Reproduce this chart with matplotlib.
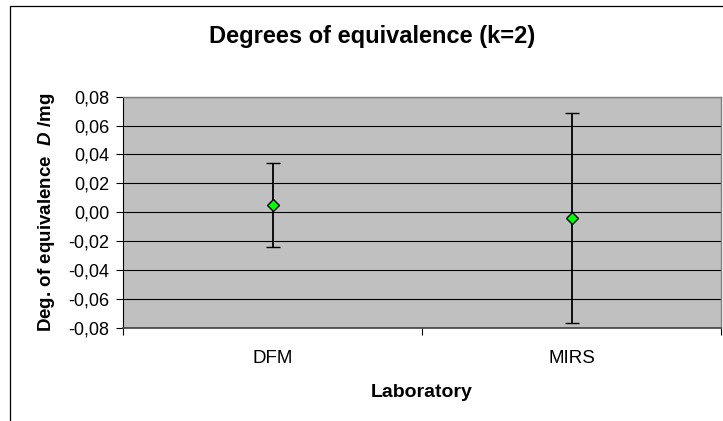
import matplotlib.pyplot as plt
from matplotlib.patches import Rectangle

labs = ['DFM', 'MIRS']
dvals = [0.005, -0.004]
uvals = [0.029, 0.073]
yticks = [-0.08, -0.06, -0.04, -0.02, 0.00, 0.02, 0.04, 0.06, 0.08]

plt.rcParams['font.family'] = 'Liberation Sans'
plt.rcParams['mathtext.fontset'] = 'custom'
plt.rcParams['mathtext.it'] = 'Liberation Sans:italic:bold'
plt.rcParams['mathtext.rm'] = 'Liberation Sans:bold'

fig = plt.figure(figsize=(7.23, 4.21), dpi=100)
fig.patch.set_facecolor('white')
# outer chart frame (cut off on the right and bottom)
fig.add_artist(Rectangle((10/723, -0.05), 1.2, 1 - 6/421 + 0.05, transform=fig.transFigure,
                         fill=False, edgecolor='black', linewidth=0.9))

ax = fig.add_axes([123/723, (421-327.7)/421, (721-123)/723, (327.7-96.7)/421])
ax.set_facecolor('#C0C0C0')

x = [i + 0.5 for i in range(len(labs))]
ax.errorbar(x, dvals, yerr=uvals, fmt='D', color='black', ecolor='black',
            elinewidth=1.3, capsize=5, capthick=1.3, markersize=6,
            markerfacecolor='#00FF00', markeredgecolor='black', markeredgewidth=1.0, zorder=3)

ax.set_xlim(0, len(labs))
ax.set_ylim(-0.08, 0.08)
ax.set_yticks(yticks)
ax.set_yticklabels([('%.2f' % v).replace('.', ',') for v in yticks], fontsize=13)
ax.yaxis.grid(True, color='black', linewidth=0.8)
ax.set_axisbelow(True)

ax.set_xticks(range(len(labs) + 1))
ax.set_xticklabels([])
ax.set_xticks(x, minor=True)
ax.set_xticklabels(labs, minor=True, fontsize=13.5)
ax.tick_params(axis='x', which='minor', length=0, pad=16)
ax.tick_params(axis='x', which='major', length=5, color='black', direction='out')
ax.tick_params(axis='y', length=5, color='black', direction='out', pad=5)

for s in ['top', 'right']:
    ax.spines[s].set_color('#808080')
    ax.spines[s].set_linewidth(1.0)
ax.spines['left'].set_color('black')
ax.spines['bottom'].set_color('#404040')
ax.spines['bottom'].set_linewidth(1.2)

fig.text(372/723, 1 - 37/421, 'Degrees of equivalence (k=2)', fontsize=17,
         fontweight='bold', ha='center', va='center')
ax.set_xlabel('Laboratory', fontsize=14, fontweight='bold', labelpad=12)
ax.set_ylabel(r'Deg. of equivalence  $\it{D}$ /mg', fontsize=13.5, fontweight='bold', labelpad=8)

fig.savefig('out.png', dpi=100)
